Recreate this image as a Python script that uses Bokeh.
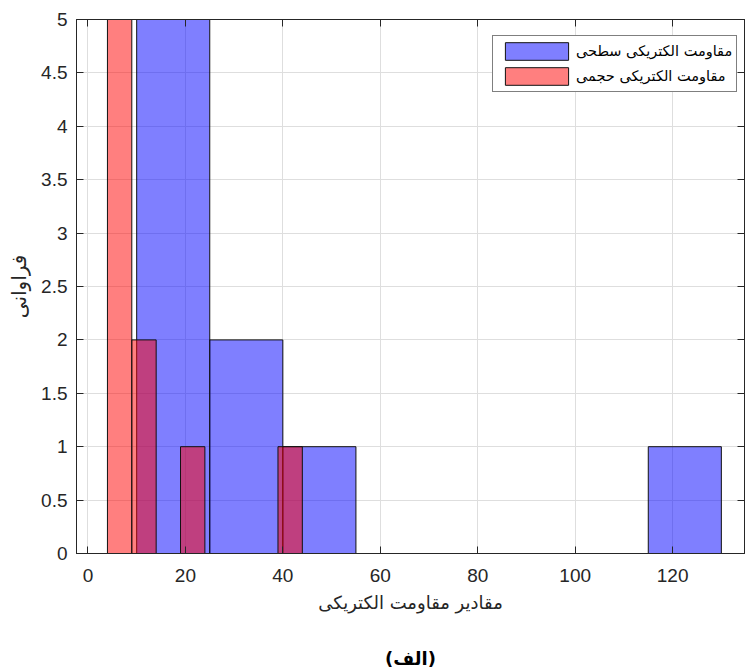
from bokeh.plotting import figure
from bokeh.models import (ColumnDataSource, LinearAxis, FixedTicker,
                          CustomJSTickFormatter, Range1d)
from bokeh.embed import file_html
from bokeh.resources import INLINE

# Histogram bins (edges) and counts for the two resistivity measurements
surface_edges = [10, 25, 40, 55, 70, 85, 100, 115, 130]
surface_counts = [7, 2, 1, 0, 0, 0, 0, 1]
volume_edges = [4, 9, 14, 19, 24, 29, 34, 39, 44]
volume_counts = [7, 2, 0, 1, 0, 0, 0, 1]

x_ticks = [0, 20, 40, 60, 80, 100, 120]
y_ticks = [0, 0.5, 1, 1.5, 2, 2.5, 3, 3.5, 4, 4.5, 5]

surface_label = "مقاومت الکتریکی سطحی"
volume_label = "مقاومت الکتریکی حجمی"
x_title = "مقادیر مقاومت الکتریکی"
y_title = "فراوانی"
caption = "(الف)"

AX = "#262626"
NUM_FONT = "Liberation Sans"
AR_FONT = "DejaVu Sans"

p = figure(width=745, height=672,
           x_range=Range1d(-2.35, 134.75), y_range=Range1d(0, 5),
           output_backend="svg", toolbar_location=None,
           min_border_left=76, min_border_right=1,
           min_border_top=19, min_border_bottom=119)
p.background_fill_color = "white"
p.border_fill_color = "white"
p.outline_line_color = AX
p.outline_line_width = 1

surface_src = ColumnDataSource(dict(left=surface_edges[:-1], right=surface_edges[1:],
                                    top=surface_counts))
volume_src = ColumnDataSource(dict(left=volume_edges[:-1], right=volume_edges[1:],
                                   top=volume_counts))

p.quad(left="left", right="right", bottom=0, top="top", source=surface_src,
       fill_color="#0000ff", fill_alpha=0.5, line_color="#111111", line_width=1,
       legend_label=surface_label)
p.quad(left="left", right="right", bottom=0, top="top", source=volume_src,
       fill_color="#ff0000", fill_alpha=0.5, line_color="#111111", line_width=1,
       legend_label=volume_label)

num_fmt = CustomJSTickFormatter(code="return tick.toString();")
blank_fmt = CustomJSTickFormatter(code="return '';")


def style_axis(ax, show_labels=True):
    ax.axis_line_color = AX
    ax.axis_line_width = 1
    ax.major_tick_line_color = AX
    ax.major_tick_in = 7
    ax.major_tick_out = 0
    ax.minor_tick_line_color = None
    ax.major_label_text_color = AX
    ax.major_label_text_font = NUM_FONT
    ax.major_label_text_font_size = "19px"
    if not show_labels:
        ax.formatter = blank_fmt
        ax.major_label_standoff = 0
        ax.major_label_text_font_size = "0px"


xa = p.xaxis[0]
xa.ticker = FixedTicker(ticks=x_ticks)
xa.formatter = num_fmt
style_axis(xa)
xa.major_label_standoff = 15
xa.axis_label = x_title
xa.axis_label_text_font = AR_FONT
xa.axis_label_text_font_size = "18px"
xa.axis_label_text_font_style = "normal"
xa.axis_label_text_color = AX
xa.axis_label_standoff = 7

ya = p.yaxis[0]
ya.ticker = FixedTicker(ticks=y_ticks)
ya.formatter = num_fmt
style_axis(ya)
ya.major_label_standoff = 9
ya.axis_label = y_title
ya.axis_label_text_font = AR_FONT
ya.axis_label_text_font_size = "20px"
ya.axis_label_text_font_style = "normal"
ya.axis_label_text_color = AX
ya.axis_label_standoff = 7

top_ax = LinearAxis(ticker=FixedTicker(ticks=x_ticks))
style_axis(top_ax, show_labels=False)
p.add_layout(top_ax, "above")
right_ax = LinearAxis(ticker=FixedTicker(ticks=y_ticks))
style_axis(right_ax, show_labels=False)
p.add_layout(right_ax, "right")

# caption under the x-axis title, carried by a bare axis with no ticks
cap_ax = LinearAxis(ticker=FixedTicker(ticks=[]), formatter=blank_fmt)
cap_ax.axis_line_color = None
cap_ax.major_tick_line_color = None
cap_ax.minor_tick_line_color = None
cap_ax.major_tick_in = 0
cap_ax.major_tick_out = 0
cap_ax.major_label_standoff = 0
cap_ax.major_label_text_font_size = "0px"
cap_ax.axis_label = caption
cap_ax.axis_label_text_font = AR_FONT
cap_ax.axis_label_text_font_size = "18px"
cap_ax.axis_label_text_font_style = "bold"
cap_ax.axis_label_text_color = "black"
cap_ax.axis_label_standoff = 32
p.add_layout(cap_ax, "below")

p.xgrid.ticker = FixedTicker(ticks=x_ticks)
p.ygrid.ticker = FixedTicker(ticks=y_ticks)
p.grid.grid_line_color = "#dedede"
p.grid.grid_line_width = 1

leg = p.legend[0]
leg.location = (416, 461)
leg.margin = 0
leg.padding = 4
leg.spacing = 3
leg.glyph_width = 79
leg.glyph_height = 22
leg.label_standoff = 0
leg.label_text_font = AR_FONT
leg.label_text_font_size = "14.5px"
leg.label_text_color = "black"
leg.border_line_color = "black"
leg.border_line_width = 1
leg.background_fill_color = "white"
leg.background_fill_alpha = 1

open("out.html", "w", encoding="utf-8").write(file_html(p, INLINE, title="histogram"))
